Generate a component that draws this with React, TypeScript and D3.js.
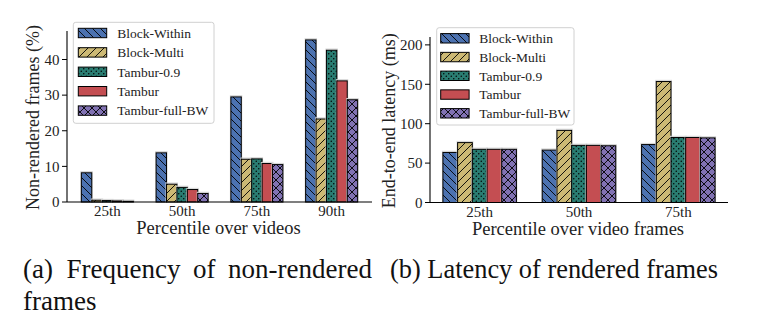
import React from "react";
import * as d3 from "d3";

const seriesNames = ["Block-Within", "Block-Multi", "Tambur-0.9", "Tambur", "Tambur-full-BW"];
const seriesColors = ["#4c72b0", "#ccb974", "#2a7d72", "#c44e52", "#8172b3"];
const seriesHatch = ["bslash", "slash", "dots", "none", "cross"];

const categoriesA = ["25th", "50th", "75th", "90th"];
const blockWithinA = [8.2, 13.8, 29.5, 45.5];
const blockMultiA = [0.5, 5.0, 12.0, 23.3];
const tambur09A = [0.4, 4.1, 12.1, 42.6];
const tamburA = [0.3, 3.5, 10.8, 34.0];
const fullBWA = [0.2, 2.4, 10.5, 28.7];
const ticksA = [0, 10, 20, 30, 40];

const categoriesB = ["25th", "50th", "75th"];
const blockWithinB = [63.5, 66.5, 73.5];
const blockMultiB = [76, 91.5, 153.5];
const tambur09B = [67.5, 72.5, 82.5];
const tamburB = [67.5, 72.5, 82.5];
const fullBWB = [67.5, 72, 82];
const ticksB = [0, 50, 100, 150, 200];

const FONT = "'Liberation Serif', 'Times New Roman', serif";

function Patterns({ id }: { id: string }) {
  const s = 8;
  return (
    <defs>
      {seriesColors.map((c, i) => {
        const h = seriesHatch[i];
        const pid = `${id}-p${i}`;
        if (h === "bslash")
          return (
            <pattern key={i} id={pid} patternUnits="userSpaceOnUse" width={s} height={s}>
              <rect width={s} height={s} fill={c} />
              <path d={`M0,0L${s},${s}M${-s / 2},${s / 2}L${s / 2},${s * 1.5}M${s / 2},${-s / 2}L${s * 1.5},${s / 2}`} stroke="#000" strokeWidth={0.9} />
            </pattern>
          );
        if (h === "slash")
          return (
            <pattern key={i} id={pid} patternUnits="userSpaceOnUse" width={s} height={s}>
              <rect width={s} height={s} fill={c} />
              <path d={`M0,${s}L${s},0M${-s / 2},${s / 2}L${s / 2},${-s / 2}M${s / 2},${s * 1.5}L${s * 1.5},${s / 2}`} stroke="#000" strokeWidth={0.9} />
            </pattern>
          );
        if (h === "dots")
          return (
            <pattern key={i} id={pid} patternUnits="userSpaceOnUse" width={5} height={5}>
              <rect width={5} height={5} fill={c} />
              <circle cx={1.25} cy={1.25} r={0.75} fill="#000" />
              <circle cx={3.75} cy={3.75} r={0.75} fill="#000" />
            </pattern>
          );
        if (h === "cross")
          return (
            <pattern key={i} id={pid} patternUnits="userSpaceOnUse" width={s} height={s}>
              <rect width={s} height={s} fill={c} />
              <path d={`M0,0L${s},${s}M0,${s}L${s},0`} stroke="#000" strokeWidth={0.9} />
            </pattern>
          );
        return (
          <pattern key={i} id={pid} patternUnits="userSpaceOnUse" width={s} height={s}>
            <rect width={s} height={s} fill={c} />
          </pattern>
        );
      })}
    </defs>
  );
}

type PanelProps = {
  id: string;
  categories: string[];
  series: number[][];
  ticks: number[];
  yMax: number;
  x0: number;
  x1: number;
  yTop: number;
  yBase: number;
  pad: number;
  groupWidth: number;
  yLabel: string;
  yLabelX: number;
  xLabel: string;
  legend: { x: number; y: number; w: number; h: number; patchX: number; textX: number; row0: number; rowStep: number };
};

function Panel(p: PanelProps) {
  const y = d3.scaleLinear().domain([0, p.yMax]).range([p.yBase, p.yTop]);
  const x = d3.scalePoint<string>().domain(p.categories).range([p.x0, p.x1]).padding(p.pad);
  const inner = d3.scaleBand<string>().domain(seriesNames).range([-p.groupWidth / 2, p.groupWidth / 2]).padding(0);
  const L = p.legend;
  return (
    <g>
      <Patterns id={p.id} />
      {p.series.map((vals, si) =>
        vals.map((v, ci) => {
          const bx = (x(p.categories[ci]) as number) + (inner(seriesNames[si]) as number);
          return (
            <g key={`${si}-${ci}`}>
              <rect x={bx - 0.5} y={y(v) - 1.2} width={inner.bandwidth() + 1} height={p.yBase - y(v) + 1.2} fill="none" stroke="#d4d4d4" strokeWidth={1} />
              <rect x={bx} y={y(v)} width={inner.bandwidth()} height={p.yBase - y(v)} fill={`url(#${p.id}-p${si})`} stroke="#000" strokeWidth={1} />
            </g>
          );
        })
      )}
      <line x1={p.x0} x2={p.x0} y1={p.yTop} y2={p.yBase} stroke="#000" strokeWidth={1.1} />
      <line x1={p.x0} x2={p.x1} y1={p.yBase} y2={p.yBase} stroke="#000" strokeWidth={1.1} />
      {p.ticks.map((t) => (
        <g key={t}>
          <line x1={p.x0 - 5} x2={p.x0} y1={y(t)} y2={y(t)} stroke="#000" strokeWidth={1} />
          <text x={p.x0 - 7.5} y={y(t)} dy="0.35em" textAnchor="end" fontSize={15} fontFamily={FONT} fill="#222">
            {t}
          </text>
        </g>
      ))}
      {p.categories.map((c) => (
        <text key={c} x={x(c) as number} y={p.yBase + 14} textAnchor="middle" fontSize={15} fontFamily={FONT} fill="#222">
          {c}
        </text>
      ))}
      <text x={(p.x0 + p.x1) / 2 - 1} y={p.yBase + 32} textAnchor="middle" fontSize={18.5} fontFamily={FONT} fill="#222">
        {p.xLabel}
      </text>
      <text transform={`translate(${p.yLabelX},${(p.yTop + p.yBase) / 2 + 1}) rotate(-90)`} textAnchor="middle" fontSize={18} fontFamily={FONT} fill="#222">
        {p.yLabel}
      </text>
      <rect x={L.x} y={L.y} width={L.w} height={L.h} rx={2.5} fill="#fff" fillOpacity={0.85} stroke="#d0d0d0" strokeWidth={1} />
      {seriesNames.map((n, i) => {
        const cy = L.row0 + i * L.rowStep;
        return (
          <g key={n}>
            <rect x={L.patchX} y={cy - 4.7} width={28.4} height={9.4} fill={`url(#${p.id}-p${i})`} stroke="#000" strokeWidth={1} />
            <text x={L.textX} y={cy} dy="0.35em" fontSize={13.5} fontFamily={FONT} fill="#222">
              {n}
            </text>
          </g>
        );
      })}
    </g>
  );
}

export default function App() {
  const capFont = 27;
  return (
    <svg width={775} height={331} style={{ position: "absolute", left: 0, top: 0, background: "#fff" }}>
      <rect width={775} height={331} fill="#fff" />
      <Panel
        id="a"
        categories={categoriesA}
        series={[blockWithinA, blockMultiA, tambur09A, tamburA, fullBWA]}
        ticks={ticksA}
        yMax={48}
        x0={67}
        x1={372}
        yTop={31}
        yBase={202}
        pad={0.54}
        groupWidth={52}
        yLabel="Non-rendered frames (%)"
        yLabelX={39}
        xLabel="Percentile over videos"
        legend={{ x: 73.3, y: 22.3, w: 140.7, h: 101, patchX: 78.3, textX: 117.3, row0: 33, rowStep: 19.4 }}
      />
      <Panel
        id="b"
        categories={categoriesB}
        series={[blockWithinB, blockMultiB, tambur09B, tamburB, fullBWB]}
        ticks={ticksB}
        yMax={210}
        x0={430}
        x1={728}
        yTop={37}
        yBase={202.5}
        pad={0.5}
        groupWidth={73.5}
        yLabel="End-to-end latency (ms)"
        yLabelX={395}
        xLabel="Percentile over video frames"
        legend={{ x: 436.7, y: 27.7, w: 137.3, h: 97.3, patchX: 440.7, textX: 479.3, row0: 38.3, rowStep: 18.75 }}
      />
      <g fontFamily={FONT} fontSize={capFont} fill="#111">
        <text x={23} y={278}>(a)</text>
        <text x={66.5} y={278}>Frequency</text>
        <text x={193} y={278}>of</text>
        <text x={372} y={278} textAnchor="end">non-rendered</text>
        <text x={23} y={310}>frames</text>
        <text x={390} y={278} textLength={328} lengthAdjust="spacingAndGlyphs">(b) Latency of rendered frames</text>
      </g>
    </svg>
  );
}
